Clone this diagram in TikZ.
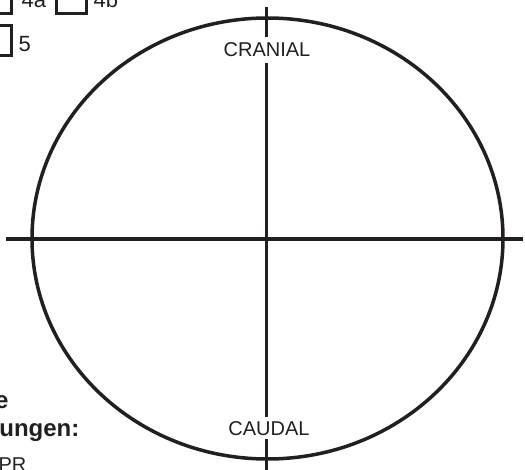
\documentclass[tikz,border=0pt]{standalone}
\usepackage{fontspec}
\setmainfont{Liberation Sans}
\usetikzlibrary{positioning}
\definecolor{inkblack}{HTML}{231F20}

\tikzset{
  checkbox/.style={draw=inkblack, line width=3.2pt, minimum size=30pt, inner sep=0pt},
  boxlabel/.style={font=\fontsize{22}{26}\selectfont, text=inkblack, inner sep=0pt},
  axislabel/.style={font=\fontsize{20}{24}\selectfont, text=inkblack, inner sep=0pt},
  notelabel/.style={font=\fontsize{24}{28}\selectfont\bfseries, text=inkblack, inner sep=0pt}
}

\begin{document}
\begin{tikzpicture}[x=1pt, y=-1pt, line width=3.3pt, color=inkblack]
\useasboundingbox (0,0) rectangle (525,470);
\clip (0,0) rectangle (525,470);

% Checkboxes (cut by the page edge)
\foreach \name/\x/\y in {4a/-3.8/-1.5, 4b/71.5/-1.5, 5/-3.5/40.5} {
  \node[checkbox] (cb\name) at (\x,\y) {};
}
\node[boxlabel, anchor=base west] (lbl4a) at (20,8) {4a};
\node[boxlabel, anchor=base west] (lbl4b) at (92,8) {4b};
\node[boxlabel, anchor=base west] (lbl5) at (17,52) {5};

% Circle & axes
\coordinate (centre) at (267.5,238.5);
\draw[line width=3.5pt] (centre) ellipse [x radius=235.5pt, y radius=220.5pt];
\coordinate (north) at (266.5,7);
\coordinate (south) at (266.5,476);
\coordinate (west) at (6,239);
\coordinate (east) at (523,239);
\draw (north) -- (south);
\draw (west) -- (east);

% Labels sit on the vertical axis and break it
\node[axislabel, fill=white, inner xsep=3pt, inner ysep=6pt, anchor=base] (cranial) at (267,57) {CRANIAL};
\node[axislabel, fill=white, inner xsep=3pt, inner ysep=4pt, anchor=base] (caudal) at (269,435) {CAUDAL};

% Notes (cut by the page edge)
\node[notelabel, anchor=base east] (note1) at (10,408) {e};
\node[notelabel, anchor=base east] (note2) at (81,436) {ungen:};
\node[axislabel, anchor=base east] (note3) at (28,471) {PR};

\end{tikzpicture}
\end{document}
